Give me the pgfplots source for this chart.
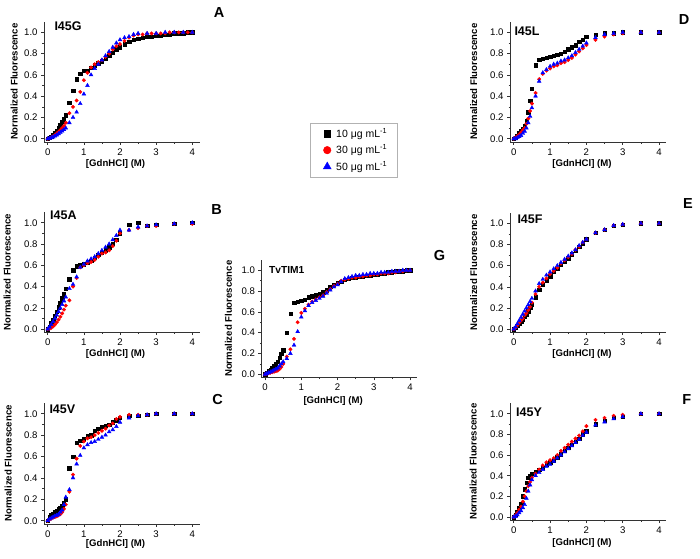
\documentclass[border=0pt]{standalone}
\usepackage{pgfplots}
\pgfplotsset{compat=1.18}
\usetikzlibrary{calc}
\usepackage{fontspec}
\setmainfont{Liberation Sans}
\pgfplotsset{
 panel/.style={scale only axis, anchor=south west, xmin=-0.1, xmax=4.2, ymin=-0.03, ymax=1.1,
  axis lines*=left, axis line style={black!80, line width=0.6pt, -},
  xtick={0,1,2,3,4}, ytick={0,0.2,0.4,0.6,0.8,1},
  minor x tick num=1, minor y tick num=1, tick align=outside,
  major tick length=3pt, minor tick length=1.6pt, tick style={black!80, line width=0.5pt},
  ticklabel style={font=\fontsize{9.6}{10}\selectfont},
  yticklabel style={/pgf/number format/fixed, /pgf/number format/fixed zerofill, /pgf/number format/precision=1},
  /pgf/number format/assume math mode=true,
  xlabel={[GdnHCl] (M)}, ylabel={Normalized Fluorescence},
  label style={font=\fontsize{9.6}{11}\selectfont\bfseries},
  clip=false},
 ylab/.style={ylabel style={at={($(axis description cs:0,0.5)+(-#1,0)$)}, anchor=center}},
 xlab/.style={xlabel style={at={($(axis description cs:0.46,0)+(0,-#1)$)}, anchor=center}},
 s1/.style={only marks, mark=square*, mark size=1.7pt, black},
 s2/.style={only marks, mark=*, mark size=1.75pt, red},
 s3/.style={only marks, mark=triangle*, mark size=2.2pt, blue},
}
\begin{document}
\begin{tikzpicture}[x=1pt,y=1pt]
\useasboundingbox (0,0) rectangle (700,558);
% ---------------- A: I45G
\begin{axis}[panel, at={(44.1pt,416.1pt)}, width=155.4pt, height=120.2pt, ylab=30pt, xlab=22pt]
\addplot[s1] coordinates {(0,0)(0.05,0.007)(0.1,0.02)(0.15,0.036)(0.2,0.056)(0.25,0.078)(0.3,0.10)(0.35,0.13)(0.4,0.16)(0.45,0.19)(0.5,0.22)(0.6,0.34)(0.7,0.45)(0.8,0.56)(0.9,0.61)(1.0,0.64)(1.1,0.64)(1.2,0.67)(1.3,0.69)(1.4,0.71)(1.5,0.73)(1.6,0.75)(1.7,0.78)(1.8,0.81)(1.9,0.84)(2.0,0.86)(2.125,0.89)(2.25,0.91)(2.375,0.93)(2.5,0.94)(2.625,0.95)(2.75,0.96)(2.875,0.96)(3.0,0.97)(3.125,0.97)(3.25,0.98)(3.375,0.98)(3.5,0.99)(3.625,0.99)(3.75,0.99)(3.875,1.0)(4.0,1.0)};
\addplot[s2] coordinates {(0,0)(0.05,0.004)(0.1,0.013)(0.15,0.023)(0.2,0.035)(0.25,0.05)(0.3,0.065)(0.35,0.082)(0.4,0.10)(0.45,0.12)(0.5,0.15)(0.6,0.24)(0.7,0.30)(0.8,0.36)(0.9,0.44)(1.0,0.55)(1.1,0.62)(1.2,0.67)(1.3,0.70)(1.4,0.72)(1.5,0.74)(1.6,0.77)(1.7,0.80)(1.8,0.84)(1.9,0.87)(2.0,0.89)(2.125,0.92)(2.25,0.95)(2.375,0.97)(2.5,0.98)(2.625,0.98)(2.75,0.99)(2.875,0.99)(3.0,0.99)(3.125,0.99)(3.25,0.99)(3.375,1.0)(3.5,1.0)(3.625,1.0)(3.75,1.0)(3.875,1.0)(4.0,1.0)};
\addplot[s3] coordinates {(0,0)(0.05,0.003)(0.1,0.009)(0.15,0.016)(0.2,0.025)(0.25,0.035)(0.3,0.047)(0.35,0.059)(0.4,0.072)(0.45,0.085)(0.5,0.10)(0.6,0.15)(0.7,0.20)(0.8,0.25)(0.9,0.33)(1.0,0.42)(1.1,0.50)(1.2,0.60)(1.3,0.66)(1.4,0.70)(1.5,0.74)(1.6,0.78)(1.7,0.82)(1.8,0.86)(1.9,0.90)(2.0,0.93)(2.125,0.95)(2.25,0.96)(2.375,0.98)(2.5,0.99)(2.75,0.99)(3.0,0.99)(3.25,1.0)(3.5,1.0)(3.75,1.0)(4.0,1.0)};
\end{axis}
% ---------------- B: I45A
\begin{axis}[panel, at={(44.1pt,225.8pt)}, width=155.4pt, height=120.1pt, ylab=37pt, xlab=21.8pt]
\addplot[s1] coordinates {(0,0)(0.05,0.024)(0.1,0.055)(0.15,0.09)(0.2,0.127)(0.25,0.165)(0.3,0.206)(0.35,0.248)(0.4,0.291)(0.45,0.335)(0.5,0.38)(0.6,0.47)(0.7,0.555)(0.8,0.59)(0.9,0.60)(1.0,0.61)(1.1,0.63)(1.2,0.64)(1.3,0.67)(1.4,0.70)(1.5,0.72)(1.6,0.74)(1.7,0.77)(1.8,0.80)(1.9,0.84)(2.0,0.90)(2.25,0.98)(2.5,1.0)(2.75,0.97)(3.0,0.98)(3.5,0.99)(4.0,1.0)};
\addplot[s2] coordinates {(0,0)(0.05,0.003)(0.1,0.012)(0.15,0.025)(0.2,0.042)(0.25,0.063)(0.3,0.088)(0.35,0.116)(0.4,0.147)(0.45,0.182)(0.5,0.22)(0.6,0.27)(0.7,0.40)(0.8,0.48)(0.9,0.58)(1.0,0.60)(1.1,0.62)(1.2,0.63)(1.3,0.65)(1.4,0.68)(1.5,0.71)(1.6,0.72)(1.7,0.74)(1.8,0.78)(1.9,0.83)(2.0,0.90)(2.25,0.93)(2.5,0.95)(2.75,0.97)(3.0,0.97)(3.5,0.99)(4.0,0.99)};
\addplot[s3] coordinates {(0,0)(0.05,0.019)(0.1,0.044)(0.15,0.071)(0.2,0.10)(0.25,0.131)(0.3,0.163)(0.35,0.196)(0.4,0.23)(0.45,0.264)(0.5,0.30)(0.6,0.38)(0.7,0.42)(0.8,0.49)(0.9,0.58)(1.0,0.61)(1.1,0.64)(1.2,0.66)(1.3,0.68)(1.4,0.71)(1.5,0.74)(1.6,0.77)(1.7,0.80)(1.8,0.84)(1.9,0.88)(2.0,0.93)(2.25,0.93)(2.5,0.96)(2.75,0.97)(3.0,0.98)(3.5,0.99)(4.0,1.0)};
\end{axis}
% ---------------- C: I45V
\begin{axis}[panel, at={(44.1pt,34.1pt)}, width=155.4pt, height=120.9pt, ylab=36pt, xlab=20pt]
\addplot[s1] coordinates {(0,0)(0.05,0.04)(0.1,0.05)(0.15,0.06)(0.2,0.08)(0.25,0.09)(0.3,0.11)(0.35,0.12)(0.4,0.14)(0.45,0.17)(0.5,0.20)(0.6,0.49)(0.7,0.60)(0.8,0.73)(0.9,0.75)(1.0,0.76)(1.1,0.79)(1.2,0.80)(1.3,0.84)(1.4,0.86)(1.5,0.88)(1.6,0.89)(1.7,0.90)(1.8,0.92)(1.9,0.94)(2.0,0.96)(2.25,0.98)(2.5,0.98)(2.75,0.99)(3.0,1.0)(3.5,1.0)(4.0,1.0)};
\addplot[s2] coordinates {(0,0)(0.05,0.01)(0.1,0.02)(0.15,0.03)(0.2,0.035)(0.25,0.04)(0.3,0.05)(0.35,0.06)(0.4,0.08)(0.45,0.11)(0.5,0.15)(0.6,0.27)(0.7,0.43)(0.8,0.58)(0.9,0.70)(1.0,0.74)(1.1,0.77)(1.2,0.78)(1.3,0.80)(1.4,0.82)(1.5,0.84)(1.6,0.86)(1.7,0.89)(1.8,0.91)(1.9,0.95)(2.0,0.97)(2.25,0.99)(2.5,0.99)(2.75,0.99)(3.0,1.0)(3.5,1.0)(4.0,1.0)};
\addplot[s3] coordinates {(0,0)(0.05,0.015)(0.1,0.025)(0.15,0.035)(0.2,0.045)(0.25,0.05)(0.3,0.06)(0.35,0.08)(0.4,0.10)(0.45,0.15)(0.5,0.22)(0.6,0.29)(0.7,0.40)(0.8,0.53)(0.9,0.61)(1.0,0.68)(1.1,0.71)(1.2,0.73)(1.3,0.74)(1.4,0.76)(1.5,0.78)(1.6,0.80)(1.7,0.83)(1.8,0.85)(1.9,0.88)(2.0,0.92)(2.25,0.96)(2.5,0.98)(2.75,0.99)(3.0,1.0)(3.5,1.0)(4.0,1.0)};
\end{axis}
% ---------------- D: I45L
\begin{axis}[panel, at={(510.1pt,416.1pt)}, width=156.2pt, height=120.2pt, ylab=36.5pt, xlab=22pt]
\addplot[s1] coordinates {(0,0)(0.05,0.01)(0.1,0.03)(0.15,0.05)(0.2,0.07)(0.25,0.09)(0.3,0.12)(0.35,0.17)(0.4,0.25)(0.45,0.36)(0.5,0.47)(0.6,0.69)(0.7,0.74)(0.8,0.75)(0.9,0.76)(1.0,0.77)(1.1,0.78)(1.2,0.79)(1.3,0.80)(1.4,0.82)(1.5,0.84)(1.6,0.86)(1.7,0.88)(1.8,0.91)(1.9,0.93)(2.0,0.96)(2.25,0.98)(2.5,0.99)(2.75,0.99)(3.0,1.0)(3.5,1.0)(4.0,1.0)};
\addplot[s2] coordinates {(0,0)(0.05,0.01)(0.1,0.025)(0.15,0.04)(0.2,0.06)(0.25,0.08)(0.3,0.10)(0.35,0.14)(0.4,0.19)(0.45,0.26)(0.5,0.33)(0.6,0.43)(0.7,0.56)(0.8,0.61)(0.9,0.64)(1.0,0.66)(1.1,0.68)(1.2,0.69)(1.3,0.71)(1.4,0.72)(1.5,0.74)(1.6,0.76)(1.7,0.79)(1.8,0.82)(1.9,0.85)(2.0,0.88)(2.25,0.93)(2.5,0.96)(2.75,0.98)(3.0,0.99)(3.5,1.0)(4.0,1.0)};
\addplot[s3] coordinates {(0,0)(0.05,0.0)(0.1,0.01)(0.15,0.02)(0.2,0.03)(0.25,0.05)(0.3,0.07)(0.35,0.10)(0.4,0.15)(0.45,0.21)(0.5,0.29)(0.6,0.40)(0.7,0.54)(0.8,0.62)(0.9,0.65)(1.0,0.68)(1.1,0.70)(1.2,0.71)(1.3,0.73)(1.4,0.74)(1.5,0.76)(1.6,0.78)(1.7,0.81)(1.8,0.84)(1.9,0.87)(2.0,0.90)(2.25,0.95)(2.5,0.98)(2.75,0.99)(3.0,1.0)(3.5,1.0)(4.0,1.0)};
\end{axis}
% ---------------- E: I45F
\begin{axis}[panel, at={(510.1pt,225.8pt)}, width=156.2pt, height=119.4pt, ylab=36.5pt, xlab=21.6pt]
\addplot[s1] coordinates {(0,0)(0.05,0.01)(0.1,0.03)(0.15,0.05)(0.2,0.07)(0.25,0.09)(0.3,0.12)(0.35,0.14)(0.4,0.17)(0.45,0.20)(0.5,0.23)(0.6,0.30)(0.7,0.37)(0.8,0.42)(0.9,0.46)(1.0,0.50)(1.1,0.54)(1.2,0.57)(1.3,0.61)(1.4,0.64)(1.5,0.67)(1.6,0.71)(1.7,0.74)(1.8,0.78)(1.9,0.81)(2.0,0.85)(2.25,0.91)(2.5,0.94)(2.75,0.98)(3.0,0.99)(3.5,1.0)(4.0,1.0)};
\addplot[s2] coordinates {(0,0)(0.05,0.015)(0.1,0.035)(0.15,0.06)(0.2,0.08)(0.25,0.10)(0.3,0.13)(0.35,0.15)(0.4,0.18)(0.45,0.21)(0.5,0.25)(0.6,0.33)(0.7,0.40)(0.8,0.44)(0.9,0.48)(1.0,0.52)(1.1,0.55)(1.2,0.58)(1.3,0.62)(1.4,0.65)(1.5,0.68)(1.6,0.71)(1.7,0.75)(1.8,0.78)(1.9,0.82)(2.0,0.85)(2.25,0.91)(2.5,0.94)(2.75,0.98)(3.0,0.99)(3.5,1.0)(4.0,1.0)};
\addplot[s3] coordinates {(0,0)(0.05,0.02)(0.1,0.05)(0.15,0.08)(0.2,0.11)(0.25,0.14)(0.3,0.17)(0.35,0.20)(0.4,0.23)(0.45,0.26)(0.5,0.29)(0.6,0.36)(0.7,0.43)(0.8,0.47)(0.9,0.51)(1.0,0.54)(1.1,0.57)(1.2,0.60)(1.3,0.63)(1.4,0.66)(1.5,0.69)(1.6,0.72)(1.7,0.75)(1.8,0.79)(1.9,0.82)(2.0,0.85)(2.25,0.91)(2.5,0.94)(2.75,0.98)(3.0,0.99)(3.5,1.0)(4.0,1.0)};
\end{axis}
% ---------------- F: I45Y
\begin{axis}[panel, at={(510.1pt,37.9pt)}, width=156.2pt, height=116.7pt, ylab=37pt, xlab=23pt]
\addplot[s1] coordinates {(0,0)(0.05,0.02)(0.1,0.05)(0.15,0.09)(0.2,0.13)(0.25,0.20)(0.3,0.27)(0.35,0.33)(0.4,0.38)(0.45,0.40)(0.5,0.42)(0.6,0.44)(0.7,0.46)(0.8,0.48)(0.9,0.51)(1.0,0.53)(1.1,0.55)(1.2,0.58)(1.3,0.61)(1.4,0.64)(1.5,0.67)(1.6,0.70)(1.7,0.73)(1.8,0.76)(1.9,0.80)(2.0,0.83)(2.25,0.90)(2.5,0.93)(2.75,0.96)(3.0,0.97)(3.5,1.0)(4.0,1.0)};
\addplot[s2] coordinates {(0,0)(0.05,0.015)(0.1,0.04)(0.15,0.07)(0.2,0.10)(0.25,0.15)(0.3,0.20)(0.35,0.25)(0.4,0.30)(0.45,0.34)(0.5,0.38)(0.6,0.42)(0.7,0.46)(0.8,0.50)(0.9,0.53)(1.0,0.55)(1.1,0.57)(1.2,0.60)(1.3,0.64)(1.4,0.67)(1.5,0.70)(1.6,0.73)(1.7,0.76)(1.8,0.79)(1.9,0.83)(2.0,0.88)(2.25,0.94)(2.5,0.96)(2.75,0.98)(3.0,0.99)(3.5,1.0)(4.0,1.0)};
\addplot[s3] coordinates {(0,0)(0.05,0.005)(0.1,0.02)(0.15,0.04)(0.2,0.06)(0.25,0.09)(0.3,0.12)(0.35,0.18)(0.4,0.25)(0.45,0.31)(0.5,0.36)(0.6,0.40)(0.7,0.43)(0.8,0.46)(0.9,0.49)(1.0,0.51)(1.1,0.54)(1.2,0.57)(1.3,0.60)(1.4,0.63)(1.5,0.66)(1.6,0.69)(1.7,0.72)(1.8,0.75)(1.9,0.79)(2.0,0.82)(2.25,0.89)(2.5,0.92)(2.75,0.95)(3.0,0.97)(3.5,1.0)(4.0,1.0)};
\end{axis}
% ---------------- G: TvTIM1 (with legend)
\begin{axis}[panel, at={(261.4pt,180.6pt)}, width=155.9pt, height=117.5pt, ylab=33pt, xlab=23.3pt,
  legend style={at={(axis description cs:0.312,2.168)}, anchor=north west, draw=black!30,
    font=\fontsize{10.5}{12}\selectfont, row sep=2pt, inner xsep=8pt, inner ysep=3.5pt,
    /tikz/every even column/.append style={column sep=11pt}},
  legend image code/.code={\path[draw=none,fill=none] (0pt,-3pt) rectangle (16pt,3pt); \draw[#1] plot coordinates {(9pt,0pt)};},
  legend cell align=left]
\addplot[s1, forget plot] coordinates {(0,0)(0.05,0.015)(0.1,0.03)(0.15,0.045)(0.2,0.06)(0.25,0.08)(0.3,0.10)(0.35,0.12)(0.4,0.16)(0.45,0.20)(0.5,0.23)(0.6,0.40)(0.7,0.58)(0.8,0.69)(0.9,0.70)(1.0,0.71)(1.1,0.72)(1.2,0.74)(1.3,0.75)(1.4,0.76)(1.5,0.77)(1.6,0.79)(1.7,0.81)(1.8,0.84)(1.9,0.86)(2.0,0.88)(2.1,0.89)(2.2,0.91)(2.3,0.92)(2.4,0.93)(2.5,0.93)(2.6,0.94)(2.7,0.94)(2.8,0.95)(2.9,0.95)(3.0,0.96)(3.1,0.96)(3.2,0.97)(3.3,0.97)(3.4,0.98)(3.5,0.98)(3.6,0.99)(3.7,0.99)(3.8,0.99)(3.9,1.0)(4.0,1.0)};
\addplot[s2, forget plot] coordinates {(0,0)(0.05,0.005)(0.1,0.01)(0.15,0.015)(0.2,0.02)(0.25,0.025)(0.3,0.03)(0.35,0.035)(0.4,0.05)(0.45,0.07)(0.5,0.10)(0.6,0.17)(0.7,0.24)(0.8,0.34)(0.9,0.50)(1.0,0.59)(1.1,0.63)(1.2,0.67)(1.3,0.70)(1.4,0.72)(1.5,0.74)(1.6,0.76)(1.7,0.79)(1.8,0.82)(1.9,0.85)(2.0,0.87)(2.1,0.90)(2.2,0.91)(2.3,0.92)(2.4,0.93)(2.5,0.93)(2.6,0.94)(2.7,0.94)(2.8,0.95)(2.9,0.95)(3.0,0.96)(3.1,0.96)(3.2,0.97)(3.3,0.97)(3.4,0.97)(3.5,0.98)(3.6,0.98)(3.7,0.99)(3.8,0.99)(3.9,1.0)(4.0,1.0)};
\addplot[s3, forget plot] coordinates {(0,0)(0.05,0.008)(0.1,0.015)(0.15,0.022)(0.2,0.03)(0.25,0.04)(0.3,0.05)(0.35,0.06)(0.4,0.08)(0.45,0.10)(0.5,0.12)(0.6,0.15)(0.7,0.20)(0.8,0.28)(0.9,0.41)(1.0,0.55)(1.1,0.61)(1.2,0.66)(1.3,0.69)(1.4,0.71)(1.5,0.73)(1.6,0.75)(1.7,0.78)(1.8,0.81)(1.9,0.84)(2.0,0.86)(2.1,0.89)(2.2,0.92)(2.3,0.93)(2.4,0.94)(2.5,0.95)(2.6,0.95)(2.7,0.96)(2.8,0.96)(2.9,0.97)(3.0,0.97)(3.1,0.97)(3.2,0.98)(3.3,0.98)(3.4,0.98)(3.5,0.99)(3.6,0.99)(3.7,0.99)(3.8,1.0)(3.9,1.0)(4.0,1.0)};
\addlegendimage{only marks, mark=square*, mark size=3.4pt, black}
\addlegendentry{10 μg mL\textsuperscript{-1}}
\addlegendimage{only marks, mark=*, mark size=3.8pt, red}
\addlegendentry{30 μg mL\textsuperscript{-1}}
\addlegendimage{only marks, mark=triangle*, mark size=4.6pt, blue}
\addlegendentry{50 μg mL\textsuperscript{-1}}
\end{axis}
% ---------------- panel names and letters
\begin{scope}[every node/.style={inner sep=0pt, font=\fontsize{12.5}{14}\selectfont\bfseries}]
\node[anchor=west] at (54.3,531.7) {I45G};
\node[anchor=west] at (50,343) {I45A};
\node[anchor=west] at (49.3,148.7) {I45V};
\node[anchor=west] at (514.3,526.3) {I45L};
\node[anchor=west] at (517.3,339) {I45F};
\node[anchor=west] at (516,145.7) {I45Y};
\node[anchor=west, font=\fontsize{10.2}{12}\selectfont\bfseries] at (269,287.7) {TvTIM1};
\end{scope}
\begin{scope}[every node/.style={inner sep=0pt, font=\fontsize{14.5}{16}\selectfont\bfseries}]
\node at (219,545.7) {A};
\node at (216.7,348.8) {B};
\node at (217.7,158.5) {C};
\node at (684,538.5) {D};
\node at (688,354.2) {E};
\node at (686.7,158.3) {F};
\node at (439.5,302.2) {G};
\end{scope}
\end{tikzpicture}
\end{document}
